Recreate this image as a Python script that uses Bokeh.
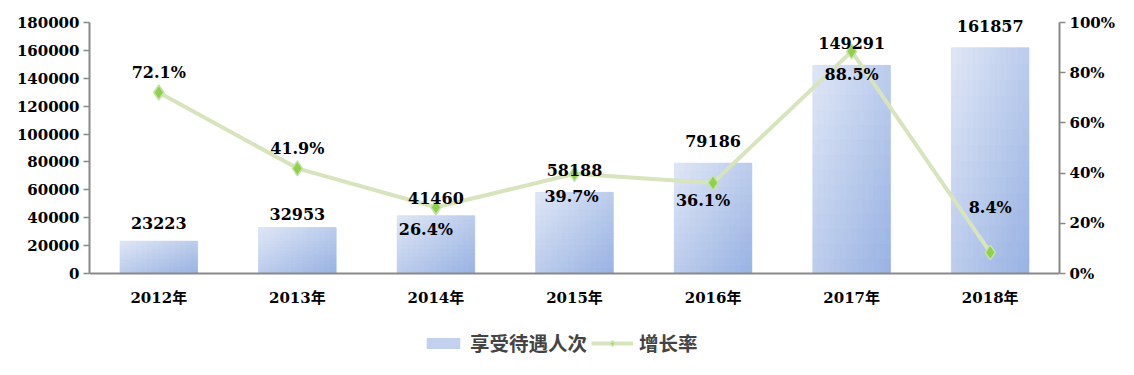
import numpy as np
from bokeh.plotting import figure
from bokeh.models import (Range1d, LinearAxis, FixedTicker, NumeralTickFormatter,
                          Legend, LegendItem, ColumnDataSource, Span)
from bokeh.core.properties import value
from bokeh.embed import file_html
from bokeh.resources import INLINE

# ---------------- data ----------------
years = ["2012年", "2013年", "2014年", "2015年", "2016年", "2017年", "2018年"]
counts = [23223, 32953, 41460, 58188, 79186, 149291, 161857]
rates = [0.721, 0.419, 0.264, 0.397, 0.361, 0.885, 0.084]
count_ticks = [0, 20000, 40000, 60000, 80000, 100000, 120000, 140000, 160000, 180000]
rate_ticks = [0.0, 0.2, 0.4, 0.6, 0.8, 1.0]
series_names = ["享受待遇人次", "增长率"]

# ---------------- style / layout ----------------
NUM_FONT = "'DejaVu Serif', 'Noto Sans CJK SC'"
CJK_FONT = "'Noto Sans CJK SC'"
AXIS_GRAY = "#898989"
BAR_W = 0.56
LIGHT = np.array([224, 231, 246])
DARK = np.array([152, 178, 227])
W, H = 1118, 359
FRAME_LEFT, FRAME_RIGHT = 89, 1059
FRAME_TOP, AXIS_TOP, ZERO_Y, BORDER_BOTTOM = 4, 22, 273, 2
# label placement offsets in pixels (dx, dy of label centre from point)
rate_dx = [0, 0, -10, -3, -10, 0, 0]
rate_dy = [-20, -20, 22, 23, 18, 23, -45]
bar_dy = [-12, -8, -12, -16, -16, -16, -16]

n = len(years)
centers = np.arange(n) + 0.5

# the frame extends beyond the axis span to leave room for labels and legend
frame_bottom = H - BORDER_BOTTOM
ymax = count_ticks[-1]
pxu = (ZERO_Y - AXIS_TOP) / ymax
ytop = ymax + (AXIS_TOP - FRAME_TOP) / pxu
ymin = -(frame_bottom - ZERO_Y) / pxu
rmax = rate_ticks[-1]

p = figure(width=W, height=H, output_backend="svg", toolbar_location=None,
           x_range=Range1d(0, n), y_range=Range1d(ymin, ytop),
           x_axis_location=None, y_axis_location="left",
           min_border_left=FRAME_LEFT, min_border_right=W - FRAME_RIGHT,
           min_border_top=FRAME_TOP, min_border_bottom=BORDER_BOTTOM)
p.outline_line_color = None
p.grid.visible = False
p.background_fill_color = "white"
p.border_fill_color = "white"

p.extra_y_ranges = {"rate": Range1d(ymin / ymax * rmax, ytop / ymax * rmax)}

# solid base bars (also used as legend swatch)
src = ColumnDataSource(dict(x=centers, top=counts))
bar_r = p.vbar(x="x", top="top", width=BAR_W, bottom=0, source=src,
               fill_color="#c3d0ee", line_color=None)

# gradient overlay built from the bar values
nx, ny = 14, 14
L, R, B, T, C = [], [], [], [], []
for i in range(n):
    x0 = centers[i] - BAR_W / 2
    for j in range(nx):
        for k in range(ny):
            u = (j + 0.5) / nx
            v = (k + 0.5) / ny
            t = (u + (1 - v)) / 2
            col = LIGHT + (DARK - LIGHT) * t
            L.append(x0 + BAR_W * j / nx)
            R.append(x0 + BAR_W * (j + 1) / nx)
            B.append(counts[i] * k / ny)
            T.append(counts[i] * (k + 1) / ny)
            C.append("#%02x%02x%02x" % tuple(int(round(c)) for c in col))
p.quad(left=L, right=R, bottom=B, top=T, fill_color=C, line_color=C, line_width=0.6)

# x axis line at zero
p.add_layout(Span(location=0, dimension="width", line_color=AXIS_GRAY, line_width=2))

# growth rate line
line_r = p.line(centers, rates, y_range_name="rate", line_color="#d7e4bd",
                line_width=4, line_join="round")
pts_r = p.scatter(centers, rates, y_range_name="rate", marker="diamond", size=15,
                  fill_color="#8fd04c", line_color="#c6e2a8", line_width=1.5)

# bar value labels
p.text(x=centers, y=counts, text=[str(c) for c in counts], text_align="center",
       text_baseline="bottom", y_offset=bar_dy, text_font=value(NUM_FONT),
       text_font_style="bold", text_font_size="16px", text_color="black")

# rate labels
p.text(x=centers, y=rates, y_range_name="rate",
       text=["%.1f%%" % (r * 100) for r in rates], text_align="center",
       text_baseline="middle", x_offset=rate_dx, y_offset=rate_dy,
       text_font=value(NUM_FONT), text_font_style="bold",
       text_font_size="16px", text_color="black")

# category labels
p.text(x=centers, y=[0] * n, text=years, text_align="center",
       text_baseline="middle", y_offset=24, text_font=value(NUM_FONT),
       text_font_style="bold", text_font_size="15px", text_color="black")

# axes
def style_axis(ax):
    ax.axis_line_color = AXIS_GRAY
    ax.axis_line_width = 2
    ax.major_tick_line_color = AXIS_GRAY
    ax.major_tick_line_width = 1.5
    ax.major_tick_out = 6
    ax.major_tick_in = 0
    ax.minor_tick_line_color = None
    ax.major_label_text_font = NUM_FONT
    ax.major_label_text_font_style = "bold"
    ax.major_label_text_font_size = "15px"
    ax.major_label_text_color = "black"
    ax.major_label_standoff = 4

yax = p.yaxis[0]
yax.ticker = FixedTicker(ticks=count_ticks)
yax.formatter = NumeralTickFormatter(format="0")
yax.bounds = (0, ymax)
style_axis(yax)

rax = LinearAxis(y_range_name="rate", ticker=FixedTicker(ticks=rate_ticks),
                 formatter=NumeralTickFormatter(format="0%"), bounds=(0, rmax))
style_axis(rax)
p.add_layout(rax, "right")

legend = Legend(items=[LegendItem(label=series_names[0], renderers=[bar_r]),
                       LegendItem(label=series_names[1], renderers=[line_r, pts_r])],
                orientation="horizontal", location=(333, 0))
legend.label_text_font = CJK_FONT
legend.label_text_font_style = "bold"
legend.label_text_font_size = "19.5px"
legend.glyph_width = 42
legend.glyph_height = 14
legend.label_standoff = 6
legend.spacing = 4
legend.padding = 6
legend.margin = 0
legend.border_line_color = None
legend.background_fill_alpha = 0
p.add_layout(legend, "center")

open("out.html", "w").write(file_html(p, INLINE))
